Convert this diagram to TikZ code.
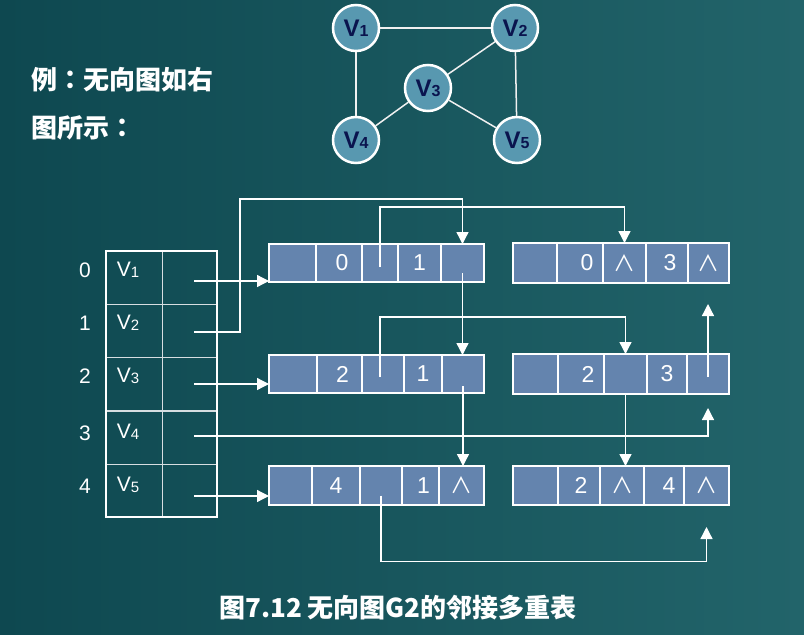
\documentclass[tikz,border=0pt]{standalone}
\usepackage{fontspec}
\setmainfont{Liberation Sans}
\newfontfamily\cjk{Noto Sans CJK SC}
\newfontfamily\cjktc{Noto Sans CJK TC}
\usetikzlibrary{arrows.meta,calc}

\definecolor{bgleft}{RGB}{14,72,80}
\definecolor{bgright}{RGB}{34,100,106}
\definecolor{vfill}{RGB}{88,152,176}
\definecolor{vtext}{RGB}{10,20,78}
\definecolor{cellfill}{RGB}{100,132,174}
\definecolor{gridline}{RGB}{215,222,225}

% small digit after a vertex letter
\newcommand\vsub[1]{{\fontsize{16}{16}\selectfont #1}}
\newcommand\tsub[1]{{\fontsize{15}{15}\selectfont\raisebox{-1pt}{#1}}}
% null pointer mark
\newcommand\nul{{\cjk\fontsize{22}{22}\selectfont ∧}}
% full-width colon, centred
\newcommand\fcolon{{\cjktc ：}}
% one field of an edge node: name, left x, width, top y, height, text
\newcommand\ecell[6]{\node[cellbox, minimum width=#3pt, minimum height=#5pt] (#1) at (#2,#4) {#6};}

\tikzset{
  vert/.style={circle, draw=white, line width=2.5pt, fill=vfill, minimum size=46pt,
    inner sep=0pt, text=vtext, font=\fontsize{24}{24}\selectfont\bfseries},
  gedge/.style={draw=white!88!gray, line width=1.5pt},
  cellbox/.style={draw=white, line width=1.5pt, fill=cellfill, inner sep=0pt, outer sep=0pt,
    anchor=north west, text=white, font=\fontsize{23}{23}\selectfont},
  tcell/.style={draw=gridline, line width=1pt, inner sep=0pt, outer sep=0pt, anchor=north west},
  tlab/.style={text=white, font=\fontsize{21}{21}\selectfont},
  link/.style={draw=white, line width=1.3pt},
  arr/.style={link, -{Triangle[length=12pt,width=12pt]}},
  frame/.style={draw=white, line width=2.5pt},
  cjktext/.style={text=white, font=\cjk\bfseries\fontsize{26}{26}\selectfont},
}

\begin{document}
\begin{tikzpicture}[x=1pt,y=-1pt]
% background
\shade[left color=bgleft, right color=bgright] (0,0) rectangle (804,635);
\useasboundingbox (0,0) rectangle (804,635);

% heading text
\node[cjktext, anchor=west] (t1) at (28,80) {例\fcolon 无向图如右};
\node[cjktext, anchor=west] (t2) at (28,128) {图所示\fcolon};

% the undirected graph G2
\node[vert] (v1) at (356,28) {V\vsub{1}};
\node[vert] (v2) at (515,28) {V\vsub{2}};
\node[vert] (v3) at (428,88) {V\vsub{3}};
\node[vert] (v4) at (356,140) {V\vsub{4}};
\node[vert] (v5) at (517,140) {V\vsub{5}};
\draw[gedge] (v1) -- (v2);
\draw[gedge] (v1) -- (v4);
\draw[gedge] (v2) -- (v5);
\draw[gedge] (v2) -- (v3);
\draw[gedge] (v3) -- (v4);
\draw[gedge] (v3) -- (v5);

% vertex table
\foreach \r/\y in {0/251,1/304,2/357,3/411,4/464} {
  \node[tcell, minimum width=56pt, minimum height=53pt] (r\r a) at (106,\y) {};
  \node[tcell, minimum width=55pt, minimum height=53pt] (r\r b) at (162,\y) {};
}
\draw[frame] (r0a.north west) rectangle (r4b.south east);
\foreach \r/\y in {0/270,1/323,2/376,3/433,4/486} {
  \node[tlab] (i\r) at (85,\y) {\r};
}
\node[tlab] (n0) at (128,270) {V\tsub{1}};
\node[tlab] (n1) at (128,323) {V\tsub{2}};
\node[tlab] (n2) at (128,376) {V\tsub{3}};
\node[tlab] (n3) at (128,432) {V\tsub{4}};
\node[tlab] (n4) at (128,485) {V\tsub{5}};

% edge nodes
\ecell{b1c1}{269}{47}{244}{38}{}
\ecell{b1c2}{316}{46}{244}{38}{\hspace*{6pt}0}
\ecell{b1c3}{362}{36}{244}{38}{}
\ecell{b1c4}{398}{43}{244}{38}{1}
\ecell{b1c5}{441}{43}{244}{38}{}
\draw[frame] (b1c1.north west) rectangle (b1c5.south east);

\ecell{b2c1}{513}{44}{243}{40}{}
\ecell{b2c2}{557}{46}{243}{40}{\hspace*{14pt}0}
\ecell{b2c3}{603}{43}{243}{40}{\nul}
\ecell{b2c4}{646}{42}{243}{40}{\hspace*{6pt}3}
\ecell{b2c5}{688}{41}{243}{40}{\nul}
\draw[frame] (b2c1.north west) rectangle (b2c5.south east);

\ecell{b3c1}{269}{48}{355}{38}{}
\ecell{b3c2}{317}{45}{355}{38}{\hspace*{6pt}2}
\ecell{b3c3}{362}{42}{355}{38}{}
\ecell{b3c4}{404}{38}{355}{38}{1}
\ecell{b3c5}{442}{42}{355}{38}{}
\draw[frame] (b3c1.north west) rectangle (b3c5.south east);

\ecell{b4c1}{513}{45}{354}{40}{}
\ecell{b4c2}{558}{46}{354}{40}{\hspace*{14pt}2}
\ecell{b4c3}{604}{43}{354}{40}{}
\ecell{b4c4}{647}{40}{354}{40}{3}
\ecell{b4c5}{687}{42}{354}{40}{}
\draw[frame] (b4c1.north west) rectangle (b4c5.south east);

\ecell{b5c1}{269}{43}{466}{39}{}
\ecell{b5c2}{312}{48}{466}{39}{4}
\ecell{b5c3}{360}{42}{466}{39}{}
\ecell{b5c4}{402}{37}{466}{39}{\hspace*{6pt}1}
\ecell{b5c5}{439}{45}{466}{39}{\nul}
\draw[frame] (b5c1.north west) rectangle (b5c5.south east);

\ecell{b6c1}{513}{45}{466}{39}{}
\ecell{b6c2}{558}{42}{466}{39}{\hspace*{4pt}2}
\ecell{b6c3}{600}{44}{466}{39}{\nul}
\ecell{b6c4}{644}{40}{466}{39}{\hspace*{10pt}4}
\ecell{b6c5}{684}{45}{466}{39}{\nul}
\draw[frame] (b6c1.north west) rectangle (b6c5.south east);

% head pointers of the vertex table
\coordinate (p0) at (194,281);
\coordinate (p1) at (194,332);
\coordinate (p2) at (194,384);
\coordinate (p3) at (194,436);
\coordinate (p4) at (194,496);
\draw[arr] (p0) -- (p0 -| b1c1.west);
\draw[arr] (p1) -- ++(46,0) -- ++(0,-133) -| (b1c5.north);
\draw[arr] (p2) -- (p2 -| b3c1.west);
\draw[arr] (p3) -- (p3 -| b4c5.center) -- ++(0,-28);
\draw[arr] (p4) -- (p4 -| b5c1.west);

% links between edge nodes
\draw[arr] ([yshift=-4pt]b1c3.center) -- ++(0,-60) -| (b2c3.north);
\draw[arr] ([yshift=-10pt]b1c5.center) -- (b1c5.center |- b3c5.north);
\draw[arr] ([yshift=-3pt,xshift=-3pt]b3c3.center) -- ++(0,-60) -| (b4c3.north);
\draw[arr] ([yshift=-12pt]b3c5.center) -- (b3c5.center |- b5c5.north);
\draw[arr] ([yshift=-3pt]b4c5.center) -- ++(0,-73);
\draw[arr] (b4c3.south) -- (b4c3.south |- b6c3.north);
\draw[arr] ([yshift=-10pt]b5c3.center) -- ++(0,66) -| ($(b6c5.south)+(0,22)$);

% caption
\node[cjktext] (cap) at (398,608) {图7.12 无向图G2的邻接多重表};
\end{tikzpicture}
\end{document}
